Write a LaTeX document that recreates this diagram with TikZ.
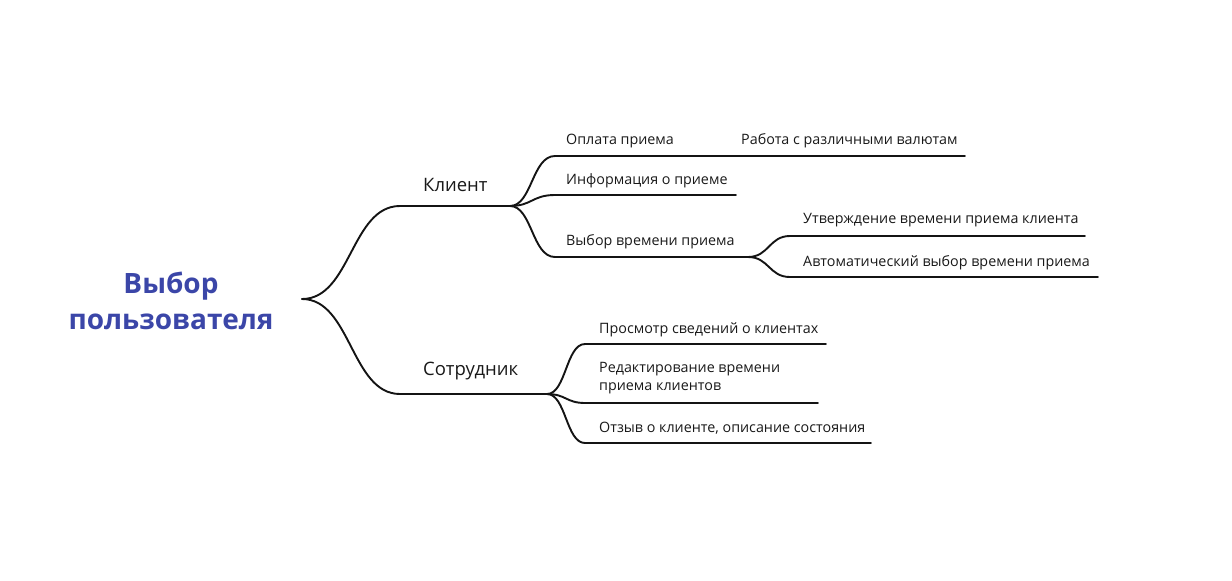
\documentclass[tikz,border=0pt]{standalone}
\usepackage{fontspec}
\setmainfont{Open Sans}
\definecolor{rootblue}{RGB}{59,70,168}
\definecolor{txt}{RGB}{25,25,25}
\begin{document}
\begin{tikzpicture}[x=1pt,y=-1pt,
  branch/.style={line width=1.9pt, draw=black!92, line cap=round},
  leaf/.style={anchor=west, inner sep=0pt, text=txt, font=\fontsize{14.3}{18}\selectfont},
  mid/.style={anchor=west, inner sep=0pt, text=txt, font=\fontsize{18.5}{22}\selectfont},
  rootnode/.style={inner sep=0pt, align=center, text=rootblue, font=\fontsize{28}{36}\selectfont\bfseries}]
\useasboundingbox (0,0) rectangle (1232,581);
% root
\node[rootnode] (root) at (171,301) {Выбор\\пользователя};
\coordinate (r0) at (302,299);
% client
\coordinate (k0) at (400,206);
\coordinate (k1) at (510,206);
\node[mid] (klient) at (423,185) {Клиент};
\coordinate (a0) at (555,156); \coordinate (a1) at (965,156);
\node[leaf] (opl) at (566,141) {Оплата приема};
\node[leaf] (val) at (741,141) {Работа с различными валютам};
\coordinate (b0) at (555,195); \coordinate (b1) at (736,195);
\node[leaf] (inf) at (566,181) {Информация о приеме};
\coordinate (c0) at (555,257); \coordinate (c1) at (748,257);
\node[leaf] (vyb) at (566,242) {Выбор времени приема};
\coordinate (d0) at (790,236); \coordinate (d1) at (1085,236);
\node[leaf] (utv) at (803,220) {Утверждение времени приема клиента};
\coordinate (e0) at (790,277); \coordinate (e1) at (1098,277);
\node[leaf] (avt) at (803,263) {Автоматический выбор времени приема};
% employee
\coordinate (s0) at (400,394);
\coordinate (s1) at (547,394);
\node[mid] (sotr) at (423,371) {Сотрудник};
\coordinate (f0) at (585,344); \coordinate (f1) at (826,344);
\node[leaf] (pros) at (599,330) {Просмотр сведений о клиентах};
\coordinate (g0) at (585,403); \coordinate (g1) at (818,403);
\node[leaf, align=left] (red) at (599,378) {Редактирование времени\\приема клиентов};
\coordinate (h0) at (585,443); \coordinate (h1) at (871,443);
\node[leaf] (otz) at (599,428) {Отзыв о клиенте, описание состояния};
% connectors
\draw[branch] (r0) .. controls (351,299) and (351,206) .. (k0) -- (k1);
\draw[branch] (r0) .. controls (351,299) and (351,394) .. (s0) -- (s1);
\draw[branch] (k1) .. controls (532,206) and (532,156) .. (a0) -- (a1);
\draw[branch] (k1) .. controls (532,206) and (532,195) .. (b0) -- (b1);
\draw[branch] (k1) .. controls (532,206) and (532,257) .. (c0) -- (c1);
\draw[branch] (c1) .. controls (769,257) and (769,236) .. (d0) -- (d1);
\draw[branch] (c1) .. controls (769,257) and (769,277) .. (e0) -- (e1);
\draw[branch] (s1) .. controls (566,394) and (566,344) .. (f0) -- (f1);
\draw[branch] (s1) .. controls (566,394) and (566,403) .. (g0) -- (g1);
\draw[branch] (s1) .. controls (566,394) and (566,443) .. (h0) -- (h1);
\end{tikzpicture}
\end{document}
